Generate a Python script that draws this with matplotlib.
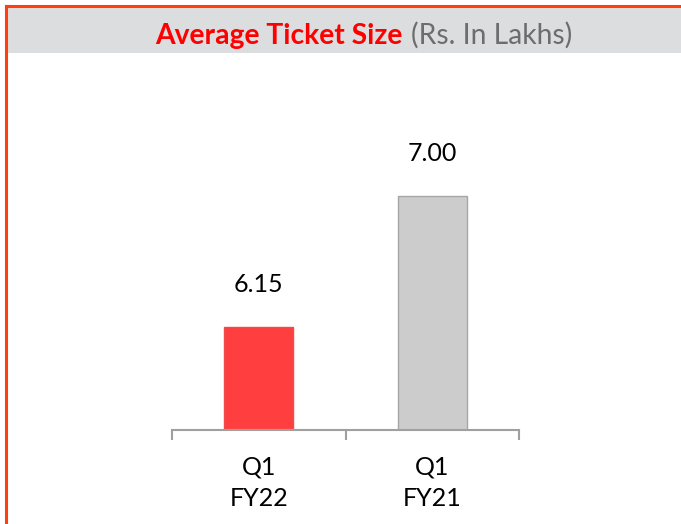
import matplotlib.pyplot as plt
from matplotlib.lines import Line2D
from matplotlib.patches import Rectangle

# chart data
categories = ["Q1\nFY22", "Q1\nFY21"]
values = [6.15, 7.00]
bar_colors = ["#FF3F3F", "#CCCCCC"]
edge_colors = ["#F04A4A", "#A6A6A6"]
title_main = "Average Ticket Size"
title_unit = "(Rs. In Lakhs)"

W, H = 681, 524
plt.rcParams['font.family'] = ['Lato', 'DejaVu Sans']

fig = plt.figure(figsize=(W / 100, H / 100), dpi=100)
fig.patch.set_facecolor("white")


def fx(px):
    return px / W


def fy(py):
    return 1 - py / H


# header band and frame
fig.add_artist(Rectangle((fx(7), fy(53)), fx(W) - fx(7), fy(7) - fy(53),
                         transform=fig.transFigure, facecolor="#DCDDDF",
                         edgecolor="none", zorder=0))
frame_color = "#FF3D0D"
fig.add_artist(Line2D([fx(6), fx(W + 5)], [fy(6), fy(6)], transform=fig.transFigure,
                      color=frame_color, linewidth=2.2))
fig.add_artist(Line2D([fx(6), fx(6)], [fy(6), fy(H + 5)], transform=fig.transFigure,
                      color=frame_color, linewidth=2.2))

# title in two styles
fig.text(fx(403), fy(44), title_main, ha="right", va="baseline",
         fontsize=20.3, fontweight="bold", color="#FF0000")
fig.text(fx(411), fy(44), title_unit, ha="left", va="baseline",
         fontsize=20.3, color="#6D6D6D")

# bar chart axes
ax = fig.add_axes([fx(172), fy(430), fx(519) - fx(172), fy(100) - fy(430)])
x = range(len(categories))
ax.bar(x, values, width=0.40, color=bar_colors, edgecolor=edge_colors,
       linewidth=1.0)
ax.set_xlim(-0.5, len(categories) - 0.5)
ax.set_ylim(5.48, 7.623)

for i, v in zip(x, values):
    ax.annotate(f"{v:.2f}", (i, v), xytext=(0, 30.5), textcoords="offset points",
                ha="center", va="center", fontsize=18, color="#000000")

for side in ["top", "right", "left"]:
    ax.spines[side].set_visible(False)
ax.spines["bottom"].set_color("#A0A0A0")
ax.spines["bottom"].set_linewidth(1.5)
ax.set_yticks([])

ax.set_xticks(list(x))
ax.set_xticklabels(categories, fontsize=18, linespacing=1.45)
ax.tick_params(axis="x", which="major", length=0, pad=18.5)
ax.set_xticks([-0.5, 0.5, 1.5], minor=True)
ax.tick_params(axis="x", which="minor", length=7, width=1.5, color="#A0A0A0",
               direction="out")
ax.patch.set_alpha(0)

fig.savefig("out.png", dpi=100)
